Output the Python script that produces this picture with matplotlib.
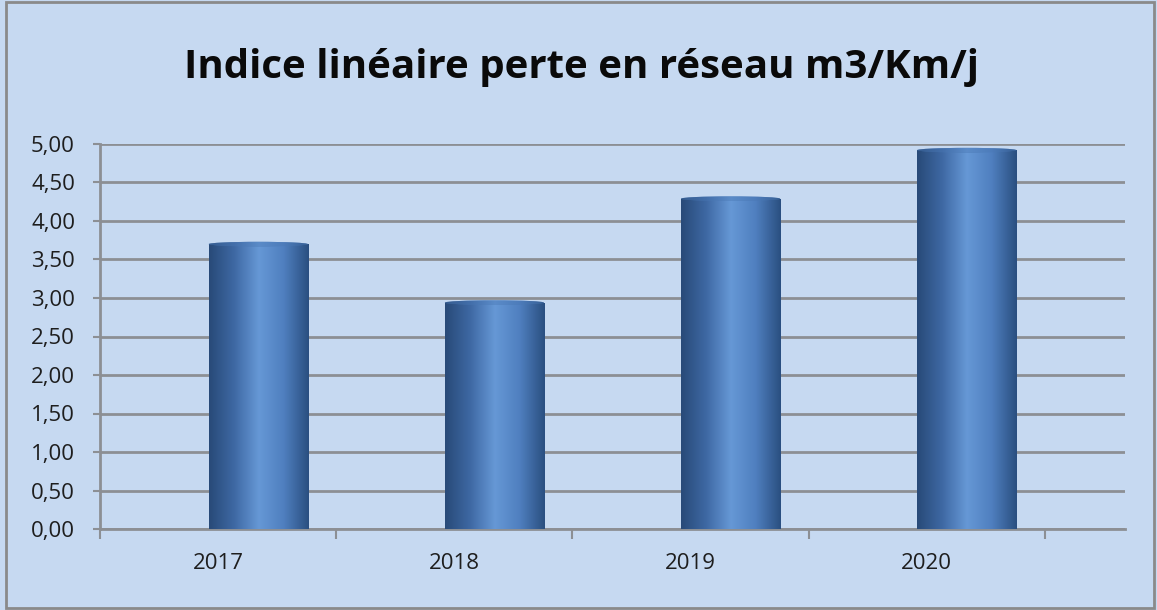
import matplotlib
matplotlib.use("Agg")
import matplotlib.pyplot as plt
import numpy as np
from matplotlib.colors import LinearSegmentedColormap
from matplotlib.patches import Rectangle, Ellipse

years = ["2017", "2018", "2019", "2020"]
values = [3.70, 2.94, 4.29, 4.92]

bg = "#c6d9f1"
grid_col = "#8c8f94"
plt.rcParams['font.family'] = ['Open Sans', 'DejaVu Sans']

fig = plt.figure(figsize=(11.57, 6.10), dpi=100)
fig.patch.set_facecolor(bg)
# cadre du graphique
fig.patches.append(Rectangle((6 / 1157, 2 / 610), 1 - 9 / 1157, 1 - 4 / 610,
                             transform=fig.transFigure, fill=False,
                             edgecolor="#8a8a8a", linewidth=2))

ax = fig.add_axes([100 / 1157, 1 - 529 / 610, 1025 / 1157, 385 / 610])
ax.set_facecolor(bg)

x = np.arange(len(years))
offset = 0.17
width = 0.42
bars = ax.bar(x + offset, values, width=width, color="none", zorder=3)

cmap = LinearSegmentedColormap.from_list(
    "cyl", ["#284a78", "#3e68a3", "#6698d6", "#4f7fbf", "#2a4f80"])
grad = np.linspace(0, 1, 256).reshape(1, -1)
for b in bars:
    x0, w, h = b.get_x(), b.get_width(), b.get_height()
    im = ax.imshow(grad, cmap=cmap, aspect="auto", extent=(x0, x0 + w, 0, h),
                   zorder=3, interpolation="bicubic")
    im.set_clip_path(b)
    cap = Ellipse((x0 + w / 2, h), w, 0.06, facecolor="#4a78b4",
                  edgecolor="none", zorder=4)
    ax.add_patch(cap)
    im2 = ax.imshow(grad, cmap=cmap, aspect="auto",
                    extent=(x0, x0 + w, h - 0.03, h + 0.03),
                    zorder=4, interpolation="bicubic", alpha=0.6)
    im2.set_clip_path(cap)

ax.set_xlim(-0.5, 3.84)
ax.set_ylim(0, 5)
ax.set_yticks(np.arange(0, 5.01, 0.5))
ax.set_yticklabels([f"{v:.2f}".replace(".", ",") for v in np.arange(0, 5.01, 0.5)],
                   fontsize=16, color="#1e1e1e")
ax.yaxis.grid(True, color=grid_col, linewidth=2, zorder=1)
ax.set_axisbelow(True)

ax.set_xticks(x)
ax.set_xticklabels(years, fontsize=16, color="#1e1e1e")
ax.set_xticks(np.arange(-0.5, 3.6, 1), minor=True)
ax.tick_params(axis="x", which="major", length=0, pad=17)
ax.tick_params(axis="x", which="minor", length=7, width=1.5, color=grid_col)
ax.tick_params(axis="y", length=5, width=1.5, color=grid_col, pad=13)

for s in ["top", "right"]:
    ax.spines[s].set_visible(False)
ax.spines["left"].set_color(grid_col)
ax.spines["left"].set_linewidth(2)
ax.spines["bottom"].set_color(grid_col)
ax.spines["bottom"].set_linewidth(2)

fig.text(581 / 1157, 1 - 78 / 610, "Indice linéaire perte en réseau m3/Km/j",
         ha="center", va="baseline", fontsize=29, fontweight="bold", color="#0a0a0a")

fig.savefig("out.png", dpi=100, facecolor=bg)
